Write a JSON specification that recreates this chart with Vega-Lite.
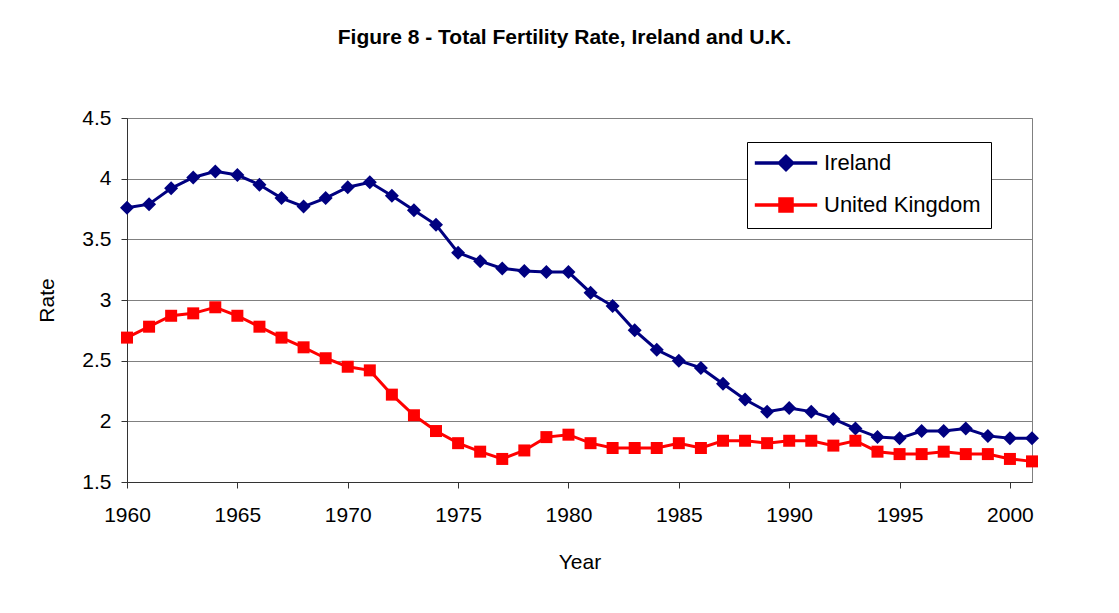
{
  "$schema": "https://vega.github.io/schema/vega-lite/v6.json",
  "width": 905,
  "height": 364,
  "autosize": {"type": "none"},
  "padding": {"left": 127, "top": 118, "right": 87, "bottom": 131},
  "background": "white",
  "title": {
    "text": "Figure 8 - Total Fertility Rate, Ireland and U.K.",
    "font": "Liberation Sans",
    "fontSize": 21,
    "fontWeight": "bold",
    "color": "#000000",
    "anchor": "middle",
    "frame": "group",
    "baseline": "alphabetic",
    "offset": 42,
    "dx": -15
  },
  "config": {
    "view": {"stroke": "#808080", "strokeWidth": 1},
    "axis": {
      "labelFont": "Liberation Sans",
      "titleFont": "Liberation Sans",
      "labelColor": "#000000",
      "titleColor": "#000000",
      "titleFontWeight": "normal",
      "domainColor": "#333333",
      "tickColor": "#333333",
      "gridColor": "#808080",
      "gridOpacity": 1
    }
  },
  "data": {
    "values": [
      {"year": 1960, "country": "Ireland", "rate": 3.76},
      {"year": 1961, "country": "Ireland", "rate": 3.79},
      {"year": 1962, "country": "Ireland", "rate": 3.92},
      {"year": 1963, "country": "Ireland", "rate": 4.01},
      {"year": 1964, "country": "Ireland", "rate": 4.06},
      {"year": 1965, "country": "Ireland", "rate": 4.03},
      {"year": 1966, "country": "Ireland", "rate": 3.95},
      {"year": 1967, "country": "Ireland", "rate": 3.84},
      {"year": 1968, "country": "Ireland", "rate": 3.77},
      {"year": 1969, "country": "Ireland", "rate": 3.84},
      {"year": 1970, "country": "Ireland", "rate": 3.93},
      {"year": 1971, "country": "Ireland", "rate": 3.97},
      {"year": 1972, "country": "Ireland", "rate": 3.86},
      {"year": 1973, "country": "Ireland", "rate": 3.74},
      {"year": 1974, "country": "Ireland", "rate": 3.62},
      {"year": 1975, "country": "Ireland", "rate": 3.39},
      {"year": 1976, "country": "Ireland", "rate": 3.32},
      {"year": 1977, "country": "Ireland", "rate": 3.26},
      {"year": 1978, "country": "Ireland", "rate": 3.24},
      {"year": 1979, "country": "Ireland", "rate": 3.23},
      {"year": 1980, "country": "Ireland", "rate": 3.23},
      {"year": 1981, "country": "Ireland", "rate": 3.06},
      {"year": 1982, "country": "Ireland", "rate": 2.95},
      {"year": 1983, "country": "Ireland", "rate": 2.75},
      {"year": 1984, "country": "Ireland", "rate": 2.59},
      {"year": 1985, "country": "Ireland", "rate": 2.50},
      {"year": 1986, "country": "Ireland", "rate": 2.44},
      {"year": 1987, "country": "Ireland", "rate": 2.31},
      {"year": 1988, "country": "Ireland", "rate": 2.18},
      {"year": 1989, "country": "Ireland", "rate": 2.08},
      {"year": 1990, "country": "Ireland", "rate": 2.11},
      {"year": 1991, "country": "Ireland", "rate": 2.08},
      {"year": 1992, "country": "Ireland", "rate": 2.02},
      {"year": 1993, "country": "Ireland", "rate": 1.94},
      {"year": 1994, "country": "Ireland", "rate": 1.87},
      {"year": 1995, "country": "Ireland", "rate": 1.86},
      {"year": 1996, "country": "Ireland", "rate": 1.92},
      {"year": 1997, "country": "Ireland", "rate": 1.92},
      {"year": 1998, "country": "Ireland", "rate": 1.94},
      {"year": 1999, "country": "Ireland", "rate": 1.88},
      {"year": 2000, "country": "Ireland", "rate": 1.86},
      {"year": 2001, "country": "Ireland", "rate": 1.86},
      {"year": 1960, "country": "United Kingdom", "rate": 2.69},
      {"year": 1961, "country": "United Kingdom", "rate": 2.78},
      {"year": 1962, "country": "United Kingdom", "rate": 2.87},
      {"year": 1963, "country": "United Kingdom", "rate": 2.89},
      {"year": 1964, "country": "United Kingdom", "rate": 2.94},
      {"year": 1965, "country": "United Kingdom", "rate": 2.87},
      {"year": 1966, "country": "United Kingdom", "rate": 2.78},
      {"year": 1967, "country": "United Kingdom", "rate": 2.69},
      {"year": 1968, "country": "United Kingdom", "rate": 2.61},
      {"year": 1969, "country": "United Kingdom", "rate": 2.52},
      {"year": 1970, "country": "United Kingdom", "rate": 2.45},
      {"year": 1971, "country": "United Kingdom", "rate": 2.42},
      {"year": 1972, "country": "United Kingdom", "rate": 2.22},
      {"year": 1973, "country": "United Kingdom", "rate": 2.05},
      {"year": 1974, "country": "United Kingdom", "rate": 1.92},
      {"year": 1975, "country": "United Kingdom", "rate": 1.82},
      {"year": 1976, "country": "United Kingdom", "rate": 1.75},
      {"year": 1977, "country": "United Kingdom", "rate": 1.69},
      {"year": 1978, "country": "United Kingdom", "rate": 1.76},
      {"year": 1979, "country": "United Kingdom", "rate": 1.87},
      {"year": 1980, "country": "United Kingdom", "rate": 1.89},
      {"year": 1981, "country": "United Kingdom", "rate": 1.82},
      {"year": 1982, "country": "United Kingdom", "rate": 1.78},
      {"year": 1983, "country": "United Kingdom", "rate": 1.78},
      {"year": 1984, "country": "United Kingdom", "rate": 1.78},
      {"year": 1985, "country": "United Kingdom", "rate": 1.82},
      {"year": 1986, "country": "United Kingdom", "rate": 1.78},
      {"year": 1987, "country": "United Kingdom", "rate": 1.84},
      {"year": 1988, "country": "United Kingdom", "rate": 1.84},
      {"year": 1989, "country": "United Kingdom", "rate": 1.82},
      {"year": 1990, "country": "United Kingdom", "rate": 1.84},
      {"year": 1991, "country": "United Kingdom", "rate": 1.84},
      {"year": 1992, "country": "United Kingdom", "rate": 1.80},
      {"year": 1993, "country": "United Kingdom", "rate": 1.84},
      {"year": 1994, "country": "United Kingdom", "rate": 1.75},
      {"year": 1995, "country": "United Kingdom", "rate": 1.73},
      {"year": 1996, "country": "United Kingdom", "rate": 1.73},
      {"year": 1997, "country": "United Kingdom", "rate": 1.75},
      {"year": 1998, "country": "United Kingdom", "rate": 1.73},
      {"year": 1999, "country": "United Kingdom", "rate": 1.73},
      {"year": 2000, "country": "United Kingdom", "rate": 1.69},
      {"year": 2001, "country": "United Kingdom", "rate": 1.67}
    ]
  },
  "encoding": {
    "x": {
      "field": "year",
      "type": "quantitative",
      "title": "Year",
      "scale": {"domain": [1960, 2001], "nice": false, "zero": false},
      "axis": {
        "values": [1960, 1965, 1970, 1975, 1980, 1985, 1990, 1995, 2000],
        "format": "d",
        "grid": false,
        "labelFontSize": 21,
        "titleFontSize": 21,
        "tickSize": 6,
        "labelPadding": 16,
        "titlePadding": 26,
        "labelFlush": false
      }
    },
    "y": {
      "field": "rate",
      "type": "quantitative",
      "title": "Rate",
      "scale": {"domain": [1.5, 4.5], "nice": false, "zero": false},
      "axis": {
        "values": [1.5, 2, 2.5, 3, 3.5, 4, 4.5],
        "format": "~g",
        "grid": true,
        "labelFontSize": 21,
        "titleFontSize": 21,
        "tickSize": 6,
        "labelPadding": 10,
        "titlePadding": 24
      }
    }
  },
  "layer": [
    {
      "mark": {"type": "line", "strokeWidth": 3},
      "encoding": {
        "color": {
          "field": "country",
          "type": "nominal",
          "scale": {"domain": ["Ireland", "United Kingdom"], "range": ["#000080", "#FF0000"]},
          "legend": {
            "title": null,
            "orient": "none",
            "legendX": 620,
            "legendY": 24,
            "padding": 10,
            "strokeColor": "#000000",
            "fillColor": "#FFFFFF",
            "labelFont": "Liberation Sans",
            "labelFontSize": 22,
            "labelColor": "#000000",
            "symbolSize": 144,
            "symbolStrokeWidth": 3,
            "labelOffset": 45,
            "rowPadding": 15,
            "encoding": {
              "symbols": {
                "shape": {"condition": {"test": "datum.value === 'Ireland'", "value": "M-2.2,0H8.2M3,-1.1L4.1,0L3,1.1L1.9,0Z"}, "value": "M-2.2,0H8.2M2,-1H4V1H2Z"},
                "fill": {"value": {"expr": "scale('color', datum.value)"}},
                "stroke": {"value": {"expr": "scale('color', datum.value)"}},
                "strokeWidth": {"value": 3.5},
                "opacity": {"value": 1}
              }
            }
          }
        }
      }
    },
    {
      "transform": [{"filter": "datum.country === 'Ireland'"}],
      "mark": {"type": "point", "filled": true, "opacity": 1, "shape": "M0,-1L1,0L0,1L-1,0Z", "size": 196, "color": "#000080"}
    },
    {
      "transform": [{"filter": "datum.country === 'United Kingdom'"}],
      "mark": {"type": "point", "filled": true, "opacity": 1, "shape": "square", "size": 144, "color": "#FF0000"}
    }
  ]
}
